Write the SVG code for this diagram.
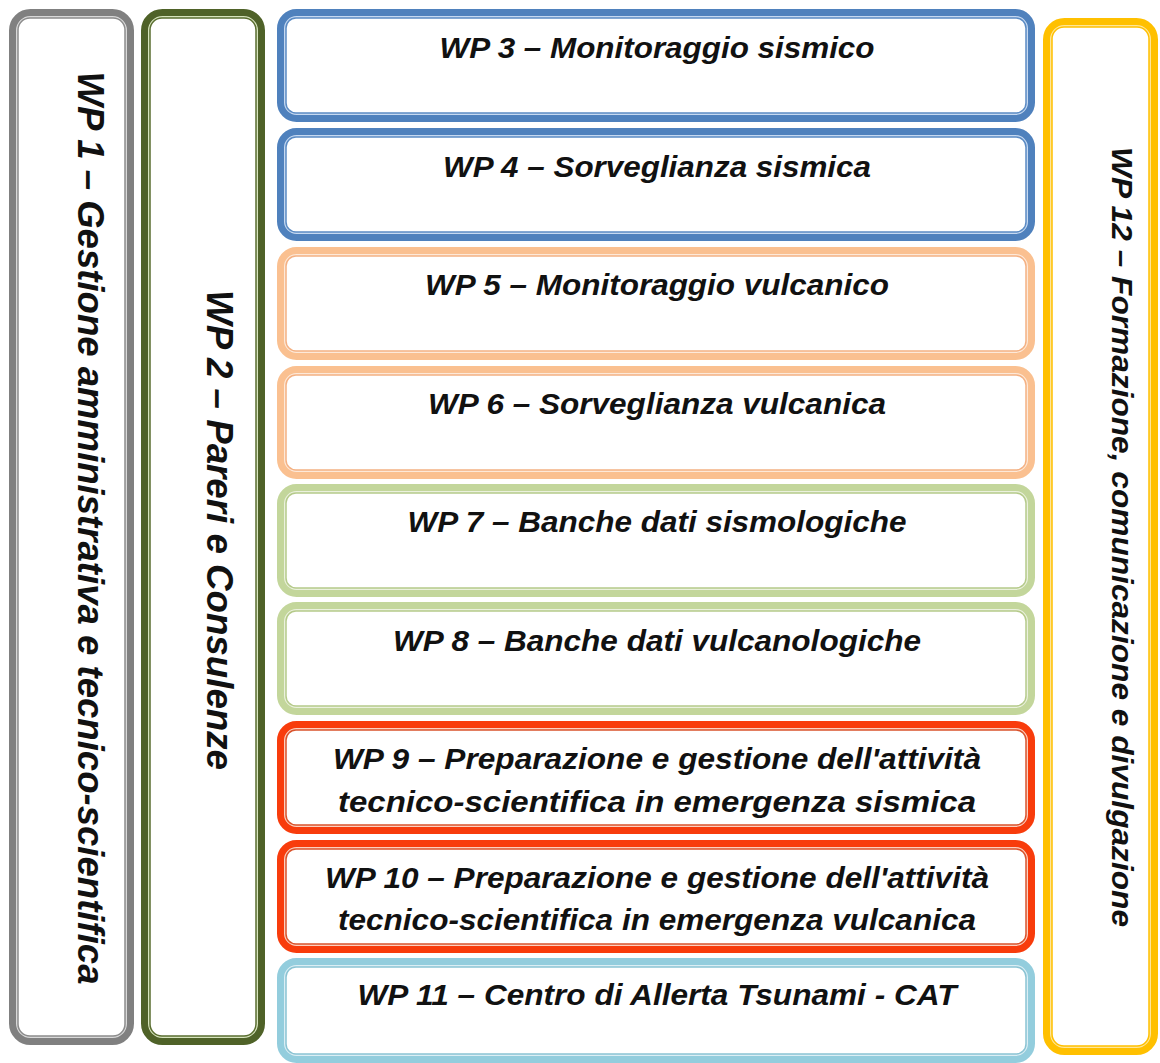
<svg xmlns="http://www.w3.org/2000/svg" width="1160" height="1063" viewBox="0 0 1160 1063">
<style>
.o{stroke-width:7}
.i{fill:#ffffff;stroke-width:1.5}
.t{font-family:"Liberation Sans",Arial,sans-serif;font-weight:bold;font-style:italic;fill:#111;text-anchor:middle}
.h{font-size:30px}
.v{font-size:36px}
.gray .o{stroke:#808080;fill:#d9d9d9}.gray .i{stroke:#8c8c8c}
.olive .o{stroke:#4f6228;fill:#d7e4bd}.olive .i{stroke:#5a6e30}
.blue .o{stroke:#4f81bd;fill:#c6d9f1}.blue .i{stroke:#5b8bc4}
.orange .o{stroke:#fac090;fill:#fde9d9}.orange .i{stroke:#f4b183}
.green .o{stroke:#c3d69b;fill:#ebf1de}.green .i{stroke:#b5ca8a}
.red .o{stroke:#f83c0c;fill:#fcd0c0}.red .i{stroke:#d9532c}
.cyan .o{stroke:#93cddd;fill:#dbeef4}.cyan .i{stroke:#8ac3d3}
.yellow .o{stroke:#ffc000;fill:#ffe699}.yellow .i{stroke:#ffc000}
</style>
<rect width="1160" height="1063" fill="#ffffff"/>
<g id="connectors"></g>

<g id="wp1" class="gray">
<rect class="o" x="12.5" y="12.5" width="118" height="1029" rx="18"/>
<rect class="i" x="18" y="18" width="107" height="1018" rx="12"/>
<text class="t v" transform="translate(78,528) rotate(90)" textLength="913" lengthAdjust="spacingAndGlyphs">WP 1 – Gestione amministrativa e tecnico-scientifica</text>
</g>

<g id="wp2" class="olive">
<rect class="o" x="144.5" y="12.5" width="117" height="1029" rx="18"/>
<rect class="i" x="150" y="18" width="106" height="1018" rx="12"/>
<text class="t v" transform="translate(207,530) rotate(90)" textLength="480" lengthAdjust="spacingAndGlyphs">WP 2 – Pareri e Consulenze</text>
</g>

<g id="wp3" class="blue">
<rect class="o" x="280.5" y="12.5" width="751" height="106" rx="16"/>
<rect class="i" x="286" y="18" width="740" height="95" rx="10"/>
<text class="t h" x="657" y="58" textLength="435" lengthAdjust="spacingAndGlyphs">WP 3 – Monitoraggio sismico</text>
</g>

<g id="wp4" class="blue">
<rect class="o" x="280.5" y="131.5" width="751" height="106" rx="16"/>
<rect class="i" x="286" y="137" width="740" height="95" rx="10"/>
<text class="t h" x="657" y="177" textLength="428" lengthAdjust="spacingAndGlyphs">WP 4 – Sorveglianza sismica</text>
</g>

<g id="wp5" class="orange">
<rect class="o" x="280.5" y="250.5" width="751" height="106" rx="16"/>
<rect class="i" x="286" y="256" width="740" height="95" rx="10"/>
<text class="t h" x="657" y="295" textLength="464" lengthAdjust="spacingAndGlyphs">WP 5 – Monitoraggio vulcanico</text>
</g>

<g id="wp6" class="orange">
<rect class="o" x="280.5" y="369.5" width="751" height="106" rx="16"/>
<rect class="i" x="286" y="375" width="740" height="95" rx="10"/>
<text class="t h" x="657" y="414" textLength="458" lengthAdjust="spacingAndGlyphs">WP 6 – Sorveglianza vulcanica</text>
</g>

<g id="wp7" class="green">
<rect class="o" x="280.5" y="487.5" width="751" height="106" rx="16"/>
<rect class="i" x="286" y="493" width="740" height="95" rx="10"/>
<text class="t h" x="657" y="532" textLength="499" lengthAdjust="spacingAndGlyphs">WP 7 – Banche dati sismologiche</text>
</g>

<g id="wp8" class="green">
<rect class="o" x="280.5" y="605.5" width="751" height="106" rx="16"/>
<rect class="i" x="286" y="611" width="740" height="95" rx="10"/>
<text class="t h" x="657" y="651" textLength="528" lengthAdjust="spacingAndGlyphs">WP 8 – Banche dati vulcanologiche</text>
</g>

<g id="wp9" class="red">
<rect class="o" x="280.5" y="724.5" width="751" height="106" rx="16"/>
<rect class="i" x="286" y="730" width="740" height="95" rx="10"/>
<text class="t h" x="657" y="769" textLength="648" lengthAdjust="spacingAndGlyphs">WP 9 – Preparazione e gestione dell'attività</text>
<text class="t h" x="657" y="812" textLength="638" lengthAdjust="spacingAndGlyphs">tecnico-scientifica in emergenza sismica</text>
</g>

<g id="wp10" class="red">
<rect class="o" x="280.5" y="843.5" width="751" height="106" rx="16"/>
<rect class="i" x="286" y="849" width="740" height="95" rx="10"/>
<text class="t h" x="657" y="888" textLength="664" lengthAdjust="spacingAndGlyphs">WP 10 – Preparazione e gestione dell'attività</text>
<text class="t h" x="657" y="930" textLength="638" lengthAdjust="spacingAndGlyphs">tecnico-scientifica in emergenza vulcanica</text>
</g>

<g id="wp11" class="cyan">
<rect class="o" x="280.5" y="961.5" width="751" height="98" rx="16"/>
<rect class="i" x="286" y="967" width="740" height="87" rx="10"/>
<text class="t h" x="657" y="1005" textLength="599" lengthAdjust="spacingAndGlyphs">WP 11 – Centro di Allerta Tsunami - CAT</text>
</g>

<g id="wp12" class="yellow">
<rect class="o" x="1046.5" y="21.5" width="108" height="1030" rx="18"/>
<rect class="i" x="1052" y="27" width="97" height="1019" rx="12"/>
<text class="t" style="font-size:30px" transform="translate(1112,537) rotate(90)" textLength="780" lengthAdjust="spacingAndGlyphs">WP 12 – Formazione, comunicazione e divulgazione</text>
</g>
</svg>
